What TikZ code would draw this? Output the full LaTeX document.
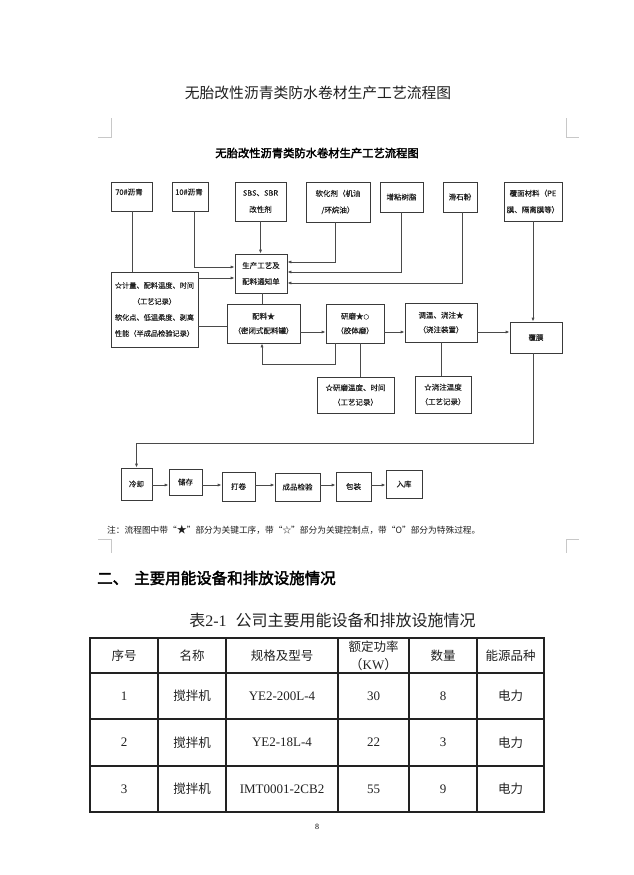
\documentclass[tikz,border=0pt]{standalone}
\usepackage{fontspec}
\setmainfont{Liberation Serif}
\newfontfamily\cjk{Noto Sans CJK SC}
\newfontfamily\cjkb[FakeBold=2.5]{Noto Sans CJK SC}
\newfontfamily\cjkm[FakeBold=0.15]{Noto Sans CJK SC}
\usetikzlibrary{arrows.meta}
\definecolor{boxc}{HTML}{3A3A3A}
\definecolor{linec}{HTML}{4A4A4A}
\definecolor{txtc}{HTML}{1E1E1E}
\definecolor{markc}{HTML}{C8C8C8}
\definecolor{tabc}{HTML}{222222}
\begin{document}
\begin{tikzpicture}[x=1pt,y=-1pt,
  box/.style={draw=boxc, line width=0.8pt, inner sep=0pt, align=center, text=txtc,
    font=\cjkm\fontsize{7.5}{15}\selectfont},
  wh/.style 2 args={minimum width=#1pt, minimum height=#2pt},
  btxt/.style={inner sep=0pt, text=txtc, font=\cjkm\fontsize{7.5}{15}\selectfont},
  ln/.style={draw=linec, line width=0.8pt},
  arr/.style={ln, -{Latex[length=4pt,width=3.2pt]}},
  tline/.style={draw=tabc, line width=1.2pt},
  th/.style={inner sep=0pt, text=tabc, align=center, font=\cjk\fontsize{12.5}{18}\selectfont},
  td/.style={inner sep=0pt, text=tabc, font=\fontsize{13}{15}\selectfont},
  tdc/.style={inner sep=0pt, text=tabc, font=\cjk\fontsize{12.5}{15}\selectfont},
  cornermark/.style={draw=markc, line width=1pt}
]
\fill[white] (0,0) rectangle (634,875);
\useasboundingbox (0,0) rectangle (634,875);

% page title
\node[inner sep=0pt, text=txtc, font=\cjk\fontsize{14.8}{18}\selectfont] (title) at (318,93) {无胎改性沥青类防水卷材生产工艺流程图};

% corner marks
\draw[cornermark] (98,137) -- (111,137) -- (111,118);
\draw[cornermark] (566,118) -- (566,137) -- (579,137);
\draw[cornermark] (98,539) -- (111,539) -- (111,553);
\draw[cornermark] (579,539) -- (566,539) -- (566,553);

% flowchart title
\node[inner sep=0pt, text=black, font=\cjkb\fontsize{11.3}{14}\selectfont] (ftitle) at (317,153) {无胎改性沥青类防水卷材生产工艺流程图};

% top row
\node[box, wh={41}{29}] (b70) at (131.5,196.5) {};
\node[btxt, anchor=west] (t70) at (115,192) {70\#沥青};
\node[box, wh={36}{29}] (b10) at (190,196.5) {};
\node[btxt, anchor=west] (t10) at (175,192) {10\#沥青};
\node[box, wh={51}{39}, font=\cjkm\fontsize{7.5}{16.5}\selectfont] (sbs) at (260.5,201.5) {SBS、SBR\\改性剂};
\node[box, wh={64}{40}, font=\cjkm\fontsize{7.5}{16.5}\selectfont] (rh) at (338,202) {软化剂（机油\\/环烷油）};
\node[box, wh={43}{30}] (zn) at (401.5,197) {增粘树脂};
\node[box, wh={34}{30}] (hs) at (460,197) {滑石粉};
\node[box, wh={58}{39}, font=\cjkm\fontsize{7.5}{16.5}\selectfont] (fm) at (533,201.5) {覆面材料（PE\\膜、隔离膜等）};

% middle
\node[box, wh={52}{39}, font=\cjkm\fontsize{7.5}{16}\selectfont] (sc) at (261,273.5) {生产工艺及\\配料通知单};
\node[box, wh={87}{75}, font=\cjkm\fontsize{7.2}{16}\selectfont] (jl) at (154.5,309.5) {☆计量、配料温度、时间\\（工艺记录）\\软化点、低温柔度、剥离\\性能（半成品检验记录）};
\node[box, wh={73}{39}, font=\cjkm\fontsize{7.5}{14.5}\selectfont] (pl) at (263.5,323.5) {配料★\\（密闭式配料罐）};
\node[box, wh={58}{39}, font=\cjkm\fontsize{7.5}{14.5}\selectfont] (ym) at (355,323.5) {研磨★{\fontsize{5.5}{7}\selectfont○}\\（胶体磨）};
\node[box, wh={72}{39}, font=\cjkm\fontsize{7.5}{14.5}\selectfont] (tw) at (441,322.5) {调温、浇注★\\（浇注装置）};
\node[box, wh={52}{31}] (fmo) at (536,337.5) {覆膜};
\node[box, wh={77}{36}, font=\cjkm\fontsize{7.5}{14.5}\selectfont] (ywd) at (355.5,395) {☆研磨温度、时间\\（工艺记录）};
\node[box, wh={56}{37}, font=\cjkm\fontsize{7.5}{14.5}\selectfont] (jwd) at (443,394.5) {☆浇注温度\\（工艺记录）};

% bottom row
\node[box, wh={31}{32}] (lq) at (136.5,484) {冷却};
\node[box, wh={33}{26}] (cc) at (185.5,482) {储存};
\node[box, wh={33}{29}] (dj) at (238.5,486.5) {打卷};
\node[box, wh={45}{28}] (cp) at (297.5,487) {成品检验};
\node[box, wh={35}{29}] (bz) at (353.5,486.5) {包装};
\node[box, wh={36}{28}] (rk) at (404,484) {入库};

% helper coordinates
\coordinate (y262) at (335,262);
\coordinate (y272) at (401,272);
\coordinate (y283) at (462,283);
\coordinate (y267) at (194,267);
\coordinate (y278) at (0,278);
\coordinate (y326) at (0,326);
\coordinate (y332) at (0,332);
\coordinate (f1) at (335,364);
\coordinate (f2) at (262,364);
\coordinate (x132) at (132,0);
\coordinate (x360) at (360,0);
\coordinate (x441) at (441,0);
\coordinate (x262) at (262,0);
\coordinate (x533) at (533,0);
\coordinate (y443) at (0,443);
\coordinate (y485) at (0,485);

% connectors top
\draw[ln] (b70.south -| x132) -- (jl.north -| x132);
\draw[arr] (b10.south -| y267) -- (y267) -- (sc.west |- y267);
\draw[arr] (sbs.south) -- (sbs.south |- sc.north);
\draw[arr] (rh.south -| y262) -- (y262) -- (sc.east |- y262);
\draw[arr] (zn.south -| y272) -- (y272) -- (sc.east |- y272);
\draw[arr] (hs.south -| y283) -- (y283) -- (sc.east |- y283);
\draw[arr] (fm.south -| x533) -- (fmo.north -| x533);

% connectors middle
\draw[arr] (jl.east |- y278) -- (sc.west |- y278);
\draw[ln] (jl.east |- y326) -- (pl.west |- y326);
\draw[ln] (sc.south -| x262) -- (pl.north -| x262);
\draw[arr] (pl.east |- y332) -- (ym.west |- y332);
\draw[arr] (ym.south -| f1) -- (f1) -- (f2) -- (pl.south -| f2);
\draw[ln] (ym.south -| x360) -- (ywd.north -| x360);
\draw[arr] (ym.east |- y332) -- (tw.west |- y332);
\draw[ln] (tw.south -| x441) -- (jwd.north -| x441);
\draw[arr] (tw.east |- y332) -- (fmo.west |- y332);
\draw[arr] (fmo.south -| x533) -- (x533 |- y443) -- (lq.north |- y443) -- (lq.north);

% bottom arrows
\draw[arr] (lq.east |- y485) -- (cc.west |- y485);
\draw[arr] (cc.east |- y485) -- (dj.west |- y485);
\draw[arr] (dj.east |- y485) -- (cp.west |- y485);
\draw[arr] (cp.east |- y485) -- (bz.west |- y485);
\draw[arr] (bz.east |- y485) -- (rk.west |- y485);

% note
\node[inner sep=0pt, anchor=west, text=txtc, font=\cjk\fontsize{8.7}{11}\selectfont] (note) at (107,530) {注：流程图中带“{\fontsize{10}{11}\selectfont★}”部分为关键工序，带“☆”部分为关键控制点，带“O”部分为特殊过程。};

% section heading
\node[inner sep=0pt, anchor=west, text=black, font=\cjkb\fontsize{15.5}{18}\selectfont] (sec) at (97,578) {二、\hspace{6pt}主要用能设备和排放设施情况};

% caption
\node[inner sep=0pt, text=tabc, font=\fontsize{16}{18}\selectfont] (cap) at (332.5,620) {{\cjk 表}2-1\hspace{9pt}{\cjk 公司主要用能设备和排放设施情况}};

% table
\draw[tline] (90,638) rectangle (544,812);
\foreach \yy in {673,719,766} \draw[tline] (90,\yy) -- (544,\yy);
\foreach \xx in {158,226,338,409,477} \draw[tline] (\xx,638) -- (\xx,812);

\node[th] (h1) at (124,655.5) {序号};
\node[th] (h2) at (192,655.5) {名称};
\node[th] (h3) at (282,655.5) {规格及型号};
\node[th] (h4) at (373.5,655.5) {额定功率\\{\fontsize{13}{18}\selectfont（}{\rmfamily\fontsize{13}{18}\selectfont KW}{\fontsize{13}{18}\selectfont）}};
\node[th] (h5) at (443,655.5) {数量};
\node[th] (h6) at (510.5,655.5) {能源品种};

\node[td] (r11) at (124,696) {1};
\node[tdc] (r12) at (192,696) {搅拌机};
\node[td] (r13) at (282,696) {YE2-200L-4};
\node[td] (r14) at (373.5,696) {30};
\node[td] (r15) at (443,696) {8};
\node[tdc] (r16) at (510.5,696) {电力};

\node[td] (r21) at (124,742.5) {2};
\node[tdc] (r22) at (192,742.5) {搅拌机};
\node[td] (r23) at (282,742.5) {YE2-18L-4};
\node[td] (r24) at (373.5,742.5) {22};
\node[td] (r25) at (443,742.5) {3};
\node[tdc] (r26) at (510.5,742.5) {电力};

\node[td] (r31) at (124,789) {3};
\node[tdc] (r32) at (192,789) {搅拌机};
\node[td] (r33) at (282,789) {IMT0001-2CB2};
\node[td] (r34) at (373.5,789) {55};
\node[td] (r35) at (443,789) {9};
\node[tdc] (r36) at (510.5,789) {电力};

% page number
\node[inner sep=0pt, text=black, font=\fontsize{8}{10}\selectfont] (pg) at (317,827) {8};
\end{tikzpicture}
\end{document}
